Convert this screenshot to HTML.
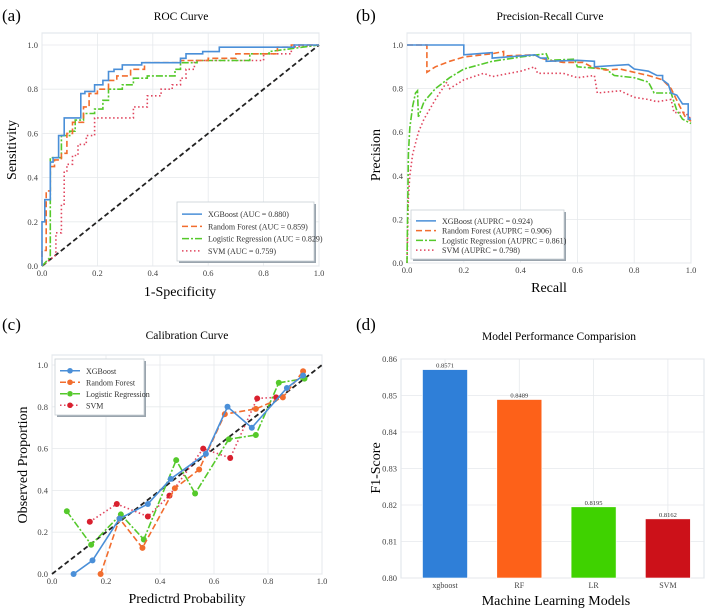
<!DOCTYPE html>
<html><head><meta charset="utf-8">
<style>
html,body{margin:0;padding:0;background:#fff;}
svg, svg text{font-family:"Liberation Serif",serif;}
svg{display:block;}
</style></head>
<body>
<svg id="fig" width="708" height="612" viewBox="0 0 708 612" xmlns="http://www.w3.org/2000/svg" font-family="Liberation Serif, serif">
<text x="2" y="21" font-size="17">(a)</text>
<text x="181" y="20" font-size="11.5" text-anchor="middle">ROC Curve</text>
<text x="180" y="296" font-size="14" text-anchor="middle">1-Specificity</text>
<text x="16" y="150" font-size="14" text-anchor="middle" transform="rotate(-90 16 150)">Sensitivity</text>
<text x="356" y="21" font-size="17">(b)</text>
<text x="550" y="20" font-size="11.5" text-anchor="middle">Precision-Recall Curve</text>
<text x="549" y="292" font-size="14" text-anchor="middle">Recall</text>
<text x="380" y="155" font-size="14" text-anchor="middle" transform="rotate(-90 380 155)">Precision</text>
<text x="2" y="330" font-size="17">(c)</text>
<text x="187" y="339" font-size="11.5" text-anchor="middle">Calibration Curve</text>
<text x="187" y="603" font-size="14" text-anchor="middle">Predictrd Probability</text>
<text x="27" y="465" font-size="14" text-anchor="middle" transform="rotate(-90 27 465)">Observed Proportion</text>
<text x="356" y="330" font-size="17">(d)</text>
<text x="559" y="340" font-size="11.5" text-anchor="middle">Model Performance Comparision</text>
<text x="556" y="605" font-size="14" text-anchor="middle">Machine Learning Models</text>
<text x="380" y="468" font-size="14" text-anchor="middle" transform="rotate(-90 380 468)">F1-Score</text>
</svg>
<script>
const models = ["XGBoost","Random Forest","Logistic Regression","SVM"];
const colors = ["#4a8fd8","#f26d2e","#55c92b","#e0455e"];
const dashes = ["", "6,3", "7,2,2,2", "1.5,2.5"];
const rocAuc = ["0.880","0.859","0.829","0.759"];
const prAuc = ["0.924","0.906","0.861","0.798"];
const rocXgbX = [0,0,0.01,0.01,0.03,0.03,0.04,0.04,0.06,0.06,0.08,0.08,0.14,0.14,0.155,0.155,0.19,0.19,0.22,0.22,0.24,0.24,0.26,0.26,0.29,0.29,0.36,0.36,0.5,0.5,0.52,0.52,0.58,0.58,0.64,0.64,0.91,0.91,1];
const rocXgbY = [0,0.2,0.2,0.3,0.3,0.47,0.47,0.49,0.49,0.59,0.59,0.67,0.67,0.78,0.78,0.79,0.79,0.82,0.82,0.84,0.84,0.88,0.88,0.89,0.89,0.91,0.91,0.92,0.92,0.94,0.94,0.96,0.96,0.97,0.97,0.99,0.99,1,1];
const rocRfX = [0,0,0.015,0.015,0.03,0.03,0.045,0.045,0.07,0.07,0.09,0.09,0.11,0.11,0.15,0.15,0.17,0.17,0.2,0.2,0.24,0.24,0.27,0.27,0.32,0.32,0.37,0.37,0.5,0.5,0.6,0.6,0.7,0.7,0.85,0.85,0.9,0.9,1];
const rocRfY = [0,0.07,0.07,0.34,0.34,0.45,0.45,0.48,0.48,0.51,0.51,0.6,0.6,0.65,0.65,0.72,0.72,0.78,0.78,0.8,0.8,0.84,0.84,0.86,0.86,0.89,0.89,0.92,0.92,0.93,0.93,0.94,0.94,0.96,0.96,0.99,0.99,1,1];
const rocLrX = [0,0.03,0.03,0.07,0.07,0.1,0.1,0.12,0.12,0.15,0.15,0.19,0.19,0.22,0.22,0.24,0.24,0.29,0.29,0.33,0.33,0.38,0.38,0.48,0.48,0.5,0.5,0.56,0.56,0.75,0.75,0.82,0.82,1];
const rocLrY = [0,0.04,0.49,0.49,0.59,0.59,0.61,0.61,0.66,0.66,0.69,0.69,0.71,0.71,0.75,0.75,0.8,0.8,0.82,0.82,0.85,0.85,0.86,0.86,0.89,0.89,0.92,0.92,0.93,0.93,0.96,0.96,0.97,1];
const rocSvmX = [0,0.05,0.05,0.07,0.07,0.08,0.08,0.09,0.09,0.11,0.11,0.13,0.13,0.16,0.16,0.19,0.19,0.33,0.33,0.38,0.38,0.43,0.43,0.47,0.47,0.5,0.5,0.52,0.52,0.55,0.55,0.8,0.8,0.9,0.9,1];
const rocSvmY = [0,0.05,0.15,0.15,0.28,0.28,0.43,0.43,0.46,0.46,0.5,0.5,0.55,0.55,0.59,0.59,0.67,0.67,0.72,0.72,0.77,0.77,0.8,0.8,0.82,0.82,0.85,0.85,0.89,0.89,0.93,0.93,0.96,0.96,0.99,1];
const prXgbX = [0,0.2,0.2,0.3,0.3,0.45,0.47,0.49,0.49,0.6,0.66,0.66,0.78,0.8,0.85,0.88,0.9,0.9,0.92,0.93,0.95,0.96,0.97,0.99,0.99,1];
const prXgbY = [1,1,0.955,0.965,0.94,0.955,0.94,0.94,0.925,0.93,0.925,0.9,0.91,0.89,0.88,0.86,0.86,0.84,0.82,0.78,0.77,0.75,0.73,0.73,0.66,0.66];
const prRfX = [0,0.07,0.07,0.1,0.15,0.2,0.3,0.34,0.34,0.45,0.47,0.5,0.55,0.62,0.65,0.7,0.75,0.8,0.85,0.9,0.93,0.96,0.98,1];
const prRfY = [1,1,0.875,0.9,0.925,0.945,0.96,0.97,0.95,0.955,0.94,0.93,0.92,0.92,0.9,0.885,0.89,0.875,0.86,0.84,0.8,0.72,0.67,0.65];
const prLrX = [0,0.005,0.01,0.02,0.03,0.037,0.04,0.06,0.1,0.15,0.2,0.3,0.4,0.49,0.5,0.59,0.6,0.7,0.73,0.8,0.85,0.87,0.93,0.95,0.97,1];
const prLrY = [0,0.5,0.62,0.72,0.78,0.79,0.67,0.74,0.8,0.85,0.89,0.925,0.945,0.96,0.93,0.935,0.9,0.89,0.86,0.85,0.83,0.78,0.78,0.7,0.66,0.64];
const prSvmX = [0,0.005,0.01,0.02,0.04,0.06,0.1,0.14,0.15,0.2,0.27,0.3,0.4,0.45,0.46,0.55,0.6,0.66,0.67,0.75,0.8,0.85,0.88,0.93,0.94,0.98,1];
const prSvmY = [0,0.3,0.4,0.5,0.6,0.66,0.75,0.83,0.8,0.84,0.87,0.855,0.88,0.9,0.87,0.87,0.85,0.86,0.78,0.79,0.76,0.75,0.74,0.75,0.69,0.69,0.66];
const calXgbX = [0.08,0.15,0.25,0.355,0.44,0.57,0.65,0.74,0.87,0.93];
const calXgbY = [0,0.065,0.265,0.335,0.455,0.575,0.8,0.7,0.89,0.95];
const calRfX = [0.18,0.25,0.335,0.455,0.545,0.64,0.755,0.855,0.93];
const calRfY = [0,0.265,0.125,0.41,0.5,0.765,0.79,0.845,0.97];
const calLrX = [0.055,0.145,0.255,0.34,0.46,0.53,0.655,0.755,0.84,0.935];
const calLrY = [0.3,0.14,0.285,0.165,0.545,0.385,0.645,0.665,0.915,0.935];
const calSvmX = [0.14,0.24,0.355,0.435,0.56,0.66,0.76,0.83];
const calSvmY = [0.25,0.335,0.275,0.375,0.6,0.555,0.84,0.845];
const barCats = ["xgboost","RF","LR","SVM"];
const barVals = [0.8571,0.8489,0.8195,0.8162];
const barLabels = ["0.8571","0.8489","0.8195","0.8162"];
const barColors = ["#2f7fd8","#fd6119","#3fd200","#cc1119"];
const unitTicks = [0,0.2,0.4,0.6,0.8,1.0];
const unitTickLabels = ["0.0","0.2","0.4","0.6","0.8","1.0"];
const barTicks = [0.80,0.81,0.82,0.83,0.84,0.85,0.86];
const barTickLabels = ["0.80","0.81","0.82","0.83","0.84","0.85","0.86"];

const NS="http://www.w3.org/2000/svg";
const svg=document.getElementById('fig');
function mk(tag,attrs,parent){const e=document.createElementNS(NS,tag);for(const k in attrs)e.setAttribute(k,attrs[k]);(parent||svg).appendChild(e);return e;}

function axes(p,prefix){
  const g=mk('g',{});
  
  
  mk('rect',{x:p.left,y:p.top,width:p.right-p.left,height:p.bottom-p.top,fill:'#fff',stroke:'#dde3e8','stroke-width':1},g);
  p.xt.forEach((v,i)=>{const x=p.xs(v);
    mk('line',{x1:x,x2:x,y1:p.top,y2:p.bottom,stroke:'#e6e9ec','stroke-width':0.8},g);
    const t=mk('text',{x:x,y:p.bottom+10,'font-size':8.5,'text-anchor':'middle',fill:'#444'},g);t.textContent=p.xl[i];
    
    
  });
  p.yt.forEach((v,i)=>{const y=p.ys(v);
    mk('line',{x1:p.left,x2:p.right,y1:y,y2:y,stroke:'#e6e9ec','stroke-width':0.8},g);
    const t=mk('text',{x:p.left-4,y:y+3,'font-size':8.5,'text-anchor':'end',fill:'#444'},g);t.textContent=p.yl[i];
    
    
  });
  return g;
}
function line(xs,ys,X,Y,i,name,markers){
  const d=X.map((v,k)=>(k?'L':'M')+xs(v).toFixed(1)+','+ys(Y[k]).toFixed(1)).join('');
  const p=mk('path',{d:d,fill:'none',stroke:colors[i],'stroke-width':1.6,'stroke-dasharray':dashes[i]});
  
  
  if(markers){X.forEach((v,k)=>{const c=mk('circle',{cx:xs(v),cy:ys(Y[k]),r:3,fill:i===3?'#d9202e':colors[i]});
    
    });}
}
function legend(x,y,w,h,labels,name,markers){
  const g=mk('g',{});
  
  
  mk('rect',{x:x+2,y:y+2,width:w,height:h,fill:'#9aa4ad'},g);
  mk('rect',{x:x,y:y,width:w,height:h,fill:'#fff',stroke:'#c9d0d6','stroke-width':0.8},g);
  const step=(h-10)/4;
  labels.forEach((lab,i)=>{const yy=y+8+step*i+step/2-2;
    mk('line',{x1:x+5,x2:x+25,y1:yy,y2:yy,stroke:colors[i],'stroke-width':1.6,'stroke-dasharray':dashes[i]},g);
    if(markers)mk('circle',{cx:x+15,cy:yy,r:2.8,fill:i===3?'#d9202e':colors[i]},g);
    const t=mk('text',{x:x+31,y:yy+3,'font-size':8,fill:'#333'},g);t.textContent=lab;
    
    
  });
}
function diag(xs,ys,name){const l=mk('line',{x1:xs(0),y1:ys(0),x2:xs(1),y2:ys(1),stroke:'#222','stroke-width':1.8,'stroke-dasharray':'5,3'});
  
  }

{const xs=v=>42+v*277, ys=v=>266-v*221;
 axes({left:42,right:319,top:33,bottom:266,xs,ys,xt:unitTicks,xl:unitTickLabels,yt:unitTicks,yl:unitTickLabels},'roc');
 diag(xs,ys,'roc-chance-line');
 [[rocSvmX,rocSvmY,3],[rocLrX,rocLrY,2],[rocRfX,rocRfY,1],[rocXgbX,rocXgbY,0]].forEach(a=>line(xs,ys,a[0],a[1],a[2],'roc-line-'+models[a[2]].toLowerCase().replace(' ','-')));
 legend(177,202,137,59,models.map((m,i)=>m+' (AUC = '+rocAuc[i]+')'),'roc-legend',false);}
{const xs=v=>407+v*284, ys=v=>263-v*218;
 axes({left:407,right:691,top:33,bottom:263,xs,ys,xt:unitTicks,xl:unitTickLabels,yt:unitTicks,yl:unitTickLabels},'pr');
 [[prSvmX,prSvmY,3],[prLrX,prLrY,2],[prRfX,prRfY,1],[prXgbX,prXgbY,0]].forEach(a=>line(xs,ys,a[0],a[1],a[2],'pr-line-'+models[a[2]].toLowerCase().replace(' ','-')));
 legend(411,210,153,49,models.map((m,i)=>m+' (AUPRC = '+prAuc[i]+')'),'pr-legend',false);}
{const xs=v=>52+v*270, ys=v=>574-v*209;
 axes({left:52,right:322,top:355,bottom:574,xs,ys,xt:unitTicks,xl:unitTickLabels,yt:unitTicks,yl:unitTickLabels},'calibration');
 diag(xs,ys,'calibration-perfect-line');
 [[calSvmX,calSvmY,3],[calLrX,calLrY,2],[calRfX,calRfY,1],[calXgbX,calXgbY,0]].forEach(a=>line(xs,ys,a[0],a[1],a[2],'calibration-line-'+models[a[2]].toLowerCase().replace(' ','-'),true));
 legend(55,359,89,56,models,'calibration-legend',true);}
{const ys=v=>578-(v-0.80)/0.06*219;
 const xc=i=>445+i*74.3;
 axes({left:401,right:704,top:359,bottom:578,xs:i=>xc(i),ys,xt:[],xl:[],yt:barTicks,yl:barTickLabels},'bar');
 barCats.forEach((c,i)=>{const x=xc(i);
   mk('line',{x1:x,x2:x,y1:359,y2:578,stroke:'#e6e9ec','stroke-width':0.8});
   const r=mk('rect',{x:x-22.5,y:ys(barVals[i]),width:45,height:578-ys(barVals[i]),fill:barColors[i],stroke:'#fff','stroke-width':0.6});
   
   
   const t=mk('text',{x:x,y:ys(barVals[i])-2,'font-size':6.5,'text-anchor':'middle',fill:'#333'});t.textContent=barLabels[i];
   
   
   const cl=mk('text',{x:x,y:588,'font-size':8,'text-anchor':'middle',fill:'#444'});cl.textContent=c;
   
   
 });}
</script>
</body></html>
